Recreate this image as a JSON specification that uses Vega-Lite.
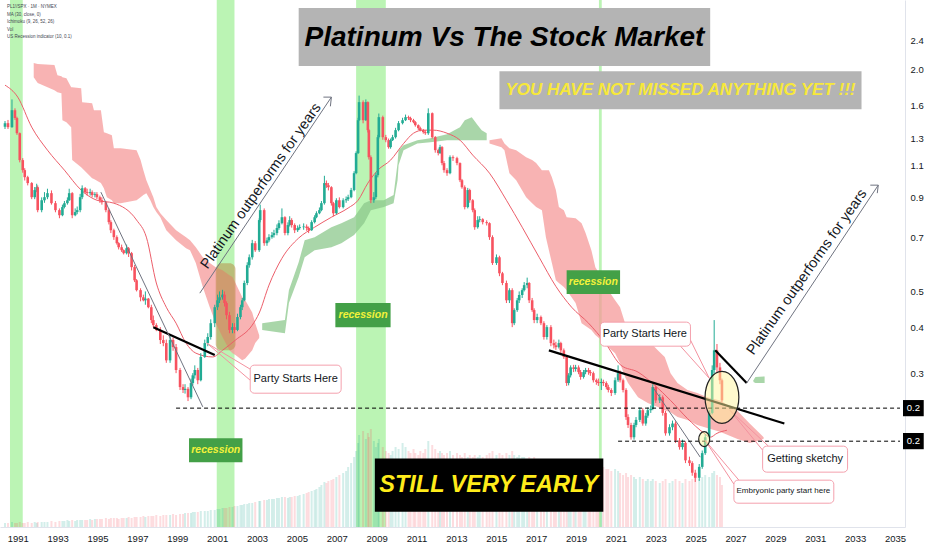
{
  "$schema": "https://vega.github.io/schema/vega-lite/v6.json",
  "width": 905,
  "height": 527,
  "autosize": {"type": "none"},
  "padding": {"left": 0, "top": 0, "right": 27, "bottom": 23},
  "background": "white",
  "datasets": {
    "recessions": [
      {"t0": 1990.61, "t1": 1991.25},
      {"t0": 2000.98, "t1": 2001.87},
      {"t0": 2007.97, "t1": 2009.46},
      {"t0": 2020.15, "t1": 2020.29}
    ],
    "candles": [
      {"t":1990.36,"o":1.4,"h":1.45,"l":1.38,"c":1.431,"v":4},
      {"t":1990.51,"o":1.431,"h":1.46,"l":1.38,"c":1.396,"v":4},
      {"t":1990.71,"o":1.396,"h":1.66,"l":1.39,"c":1.552,"v":5},
      {"t":1990.86,"o":1.552,"h":1.57,"l":1.46,"c":1.477,"v":4},
      {"t":1990.96,"o":1.477,"h":1.49,"l":1.33,"c":1.344,"v":4},
      {"t":1991.1,"o":1.344,"h":1.35,"l":1.12,"c":1.136,"v":5},
      {"t":1991.25,"o":1.136,"h":1.15,"l":1.05,"c":1.067,"v":4},
      {"t":1991.35,"o":1.067,"h":1.08,"l":1.0,"c":1.021,"v":4},
      {"t":1991.5,"o":1.021,"h":1.03,"l":0.97,"c":0.984,"v":5},
      {"t":1991.7,"o":0.984,"h":0.99,"l":0.89,"c":0.901,"v":4},
      {"t":1991.85,"o":0.901,"h":0.96,"l":0.89,"c":0.942,"v":5},
      {"t":1991.95,"o":0.942,"h":0.98,"l":0.93,"c":0.959,"v":4},
      {"t":1992.0,"o":0.959,"h":0.97,"l":0.82,"c":0.831,"v":5},
      {"t":1992.2,"o":0.831,"h":0.9,"l":0.82,"c":0.884,"v":5},
      {"t":1992.34,"o":0.884,"h":0.93,"l":0.87,"c":0.901,"v":5},
      {"t":1992.49,"o":0.901,"h":0.95,"l":0.89,"c":0.924,"v":5},
      {"t":1992.69,"o":0.924,"h":0.94,"l":0.86,"c":0.868,"v":6},
      {"t":1992.89,"o":0.868,"h":0.88,"l":0.82,"c":0.831,"v":5},
      {"t":1993.09,"o":0.831,"h":0.84,"l":0.79,"c":0.805,"v":6},
      {"t":1993.24,"o":0.805,"h":0.86,"l":0.8,"c":0.847,"v":6},
      {"t":1993.34,"o":0.847,"h":0.88,"l":0.84,"c":0.868,"v":6},
      {"t":1993.49,"o":0.868,"h":0.9,"l":0.86,"c":0.884,"v":7},
      {"t":1993.58,"o":0.884,"h":0.95,"l":0.88,"c":0.924,"v":6},
      {"t":1993.73,"o":0.924,"h":0.93,"l":0.79,"c":0.805,"v":7},
      {"t":1993.88,"o":0.805,"h":0.84,"l":0.8,"c":0.821,"v":6},
      {"t":1993.98,"o":0.821,"h":0.85,"l":0.81,"c":0.831,"v":7},
      {"t":1994.13,"o":0.831,"h":0.92,"l":0.82,"c":0.901,"v":7},
      {"t":1994.23,"o":0.901,"h":0.97,"l":0.89,"c":0.953,"v":7},
      {"t":1994.38,"o":0.953,"h":0.96,"l":0.92,"c":0.93,"v":7},
      {"t":1994.48,"o":0.93,"h":0.95,"l":0.91,"c":0.924,"v":7},
      {"t":1994.63,"o":0.924,"h":0.95,"l":0.91,"c":0.93,"v":8},
      {"t":1994.73,"o":0.93,"h":0.94,"l":0.9,"c":0.913,"v":7},
      {"t":1994.87,"o":0.913,"h":0.93,"l":0.9,"c":0.918,"v":8},
      {"t":1994.97,"o":0.918,"h":0.93,"l":0.89,"c":0.901,"v":8},
      {"t":1995.12,"o":0.901,"h":0.91,"l":0.87,"c":0.884,"v":8},
      {"t":1995.22,"o":0.884,"h":0.9,"l":0.86,"c":0.873,"v":8},
      {"t":1995.42,"o":0.873,"h":0.88,"l":0.82,"c":0.831,"v":9},
      {"t":1995.57,"o":0.831,"h":0.84,"l":0.76,"c":0.771,"v":8},
      {"t":1995.67,"o":0.771,"h":0.78,"l":0.72,"c":0.733,"v":9},
      {"t":1995.82,"o":0.733,"h":0.74,"l":0.69,"c":0.702,"v":9},
      {"t":1995.97,"o":0.702,"h":0.71,"l":0.67,"c":0.676,"v":9},
      {"t":1996.06,"o":0.676,"h":0.68,"l":0.65,"c":0.659,"v":8},
      {"t":1996.21,"o":0.659,"h":0.67,"l":0.64,"c":0.647,"v":9},
      {"t":1996.31,"o":0.647,"h":0.65,"l":0.63,"c":0.635,"v":9},
      {"t":1996.46,"o":0.635,"h":0.67,"l":0.63,"c":0.655,"v":9},
      {"t":1996.56,"o":0.655,"h":0.66,"l":0.62,"c":0.635,"v":10},
      {"t":1996.71,"o":0.635,"h":0.64,"l":0.57,"c":0.582,"v":9},
      {"t":1996.86,"o":0.582,"h":0.59,"l":0.53,"c":0.536,"v":10},
      {"t":1996.96,"o":0.536,"h":0.54,"l":0.5,"c":0.504,"v":10},
      {"t":1997.16,"o":0.504,"h":0.51,"l":0.47,"c":0.482,"v":10},
      {"t":1997.3,"o":0.482,"h":0.49,"l":0.47,"c":0.473,"v":11},
      {"t":1997.4,"o":0.473,"h":0.5,"l":0.46,"c":0.478,"v":10},
      {"t":1997.55,"o":0.478,"h":0.48,"l":0.45,"c":0.453,"v":11},
      {"t":1997.7,"o":0.453,"h":0.46,"l":0.41,"c":0.418,"v":11},
      {"t":1997.8,"o":0.418,"h":0.43,"l":0.4,"c":0.405,"v":11},
      {"t":1997.95,"o":0.405,"h":0.41,"l":0.39,"c":0.393,"v":12},
      {"t":1998.15,"o":0.393,"h":0.4,"l":0.36,"c":0.369,"v":11},
      {"t":1998.3,"o":0.369,"h":0.38,"l":0.355,"c":0.362,"v":12},
      {"t":1998.45,"o":0.362,"h":0.37,"l":0.32,"c":0.325,"v":12},
      {"t":1998.64,"o":0.325,"h":0.38,"l":0.32,"c":0.369,"v":12},
      {"t":1998.79,"o":0.369,"h":0.375,"l":0.345,"c":0.353,"v":13},
      {"t":1998.94,"o":0.353,"h":0.36,"l":0.3,"c":0.306,"v":12},
      {"t":1999.14,"o":0.306,"h":0.31,"l":0.27,"c":0.275,"v":13},
      {"t":1999.29,"o":0.275,"h":0.28,"l":0.265,"c":0.27,"v":13},
      {"t":1999.39,"o":0.27,"h":0.28,"l":0.264,"c":0.272,"v":14},
      {"t":1999.54,"o":0.272,"h":0.275,"l":0.252,"c":0.258,"v":14},
      {"t":1999.69,"o":0.258,"h":0.29,"l":0.255,"c":0.282,"v":14},
      {"t":1999.78,"o":0.282,"h":0.3,"l":0.278,"c":0.296,"v":15},
      {"t":1999.88,"o":0.296,"h":0.315,"l":0.29,"c":0.306,"v":15},
      {"t":2000.03,"o":0.306,"h":0.31,"l":0.28,"c":0.287,"v":15},
      {"t":2000.18,"o":0.287,"h":0.34,"l":0.285,"c":0.332,"v":16},
      {"t":2000.38,"o":0.332,"h":0.37,"l":0.33,"c":0.362,"v":16},
      {"t":2000.53,"o":0.362,"h":0.385,"l":0.355,"c":0.376,"v":16},
      {"t":2000.68,"o":0.376,"h":0.42,"l":0.37,"c":0.41,"v":17},
      {"t":2000.88,"o":0.41,"h":0.46,"l":0.4,"c":0.453,"v":17},
      {"t":2001.02,"o":0.453,"h":0.49,"l":0.445,"c":0.473,"v":18},
      {"t":2001.12,"o":0.473,"h":0.5,"l":0.465,"c":0.482,"v":18},
      {"t":2001.27,"o":0.482,"h":0.505,"l":0.475,"c":0.49,"v":19},
      {"t":2001.37,"o":0.49,"h":0.5,"l":0.455,"c":0.465,"v":19},
      {"t":2001.47,"o":0.465,"h":0.47,"l":0.42,"c":0.431,"v":19},
      {"t":2001.62,"o":0.431,"h":0.44,"l":0.385,"c":0.393,"v":20},
      {"t":2001.77,"o":0.393,"h":0.41,"l":0.385,"c":0.4,"v":20},
      {"t":2001.87,"o":0.4,"h":0.41,"l":0.385,"c":0.393,"v":21},
      {"t":2002.02,"o":0.393,"h":0.435,"l":0.39,"c":0.426,"v":21},
      {"t":2002.17,"o":0.426,"h":0.46,"l":0.42,"c":0.453,"v":22},
      {"t":2002.26,"o":0.453,"h":0.48,"l":0.445,"c":0.473,"v":22},
      {"t":2002.36,"o":0.473,"h":0.535,"l":0.47,"c":0.527,"v":23},
      {"t":2002.51,"o":0.527,"h":0.6,"l":0.52,"c":0.589,"v":23},
      {"t":2002.61,"o":0.589,"h":0.63,"l":0.58,"c":0.619,"v":24},
      {"t":2002.76,"o":0.619,"h":0.69,"l":0.61,"c":0.676,"v":24},
      {"t":2002.91,"o":0.676,"h":0.685,"l":0.64,"c":0.647,"v":25},
      {"t":2003.11,"o":0.647,"h":0.79,"l":0.64,"c":0.781,"v":26},
      {"t":2003.16,"o":0.781,"h":0.86,"l":0.77,"c":0.831,"v":26},
      {"t":2003.36,"o":0.831,"h":0.84,"l":0.665,"c":0.676,"v":27},
      {"t":2003.5,"o":0.676,"h":0.7,"l":0.665,"c":0.688,"v":27},
      {"t":2003.6,"o":0.688,"h":0.715,"l":0.68,"c":0.702,"v":28},
      {"t":2003.75,"o":0.702,"h":0.725,"l":0.695,"c":0.711,"v":28},
      {"t":2003.85,"o":0.711,"h":0.735,"l":0.7,"c":0.72,"v":28},
      {"t":2004.0,"o":0.72,"h":0.76,"l":0.71,"c":0.743,"v":29},
      {"t":2004.1,"o":0.743,"h":0.78,"l":0.735,"c":0.766,"v":29},
      {"t":2004.25,"o":0.766,"h":0.84,"l":0.76,"c":0.795,"v":30},
      {"t":2004.4,"o":0.795,"h":0.8,"l":0.71,"c":0.72,"v":30},
      {"t":2004.55,"o":0.72,"h":0.77,"l":0.71,"c":0.757,"v":29},
      {"t":2004.64,"o":0.757,"h":0.8,"l":0.75,"c":0.781,"v":30},
      {"t":2004.74,"o":0.781,"h":0.79,"l":0.745,"c":0.757,"v":30},
      {"t":2004.89,"o":0.757,"h":0.765,"l":0.72,"c":0.733,"v":31},
      {"t":2005.04,"o":0.733,"h":0.755,"l":0.725,"c":0.743,"v":31},
      {"t":2005.14,"o":0.743,"h":0.76,"l":0.735,"c":0.747,"v":32},
      {"t":2005.34,"o":0.747,"h":0.765,"l":0.735,"c":0.75,"v":33},
      {"t":2005.49,"o":0.75,"h":0.76,"l":0.73,"c":0.743,"v":34},
      {"t":2005.59,"o":0.743,"h":0.75,"l":0.72,"c":0.733,"v":35},
      {"t":2005.74,"o":0.733,"h":0.78,"l":0.73,"c":0.771,"v":36},
      {"t":2005.89,"o":0.771,"h":0.805,"l":0.765,"c":0.795,"v":37},
      {"t":2005.98,"o":0.795,"h":0.825,"l":0.79,"c":0.815,"v":38},
      {"t":2006.13,"o":0.815,"h":0.845,"l":0.81,"c":0.831,"v":40},
      {"t":2006.23,"o":0.831,"h":0.88,"l":0.825,"c":0.868,"v":42},
      {"t":2006.38,"o":0.868,"h":1.03,"l":0.86,"c":0.984,"v":45},
      {"t":2006.48,"o":0.984,"h":1.0,"l":0.955,"c":0.971,"v":44},
      {"t":2006.58,"o":0.971,"h":0.985,"l":0.94,"c":0.959,"v":46},
      {"t":2006.73,"o":0.959,"h":0.965,"l":0.855,"c":0.868,"v":47},
      {"t":2006.83,"o":0.868,"h":0.875,"l":0.8,"c":0.815,"v":48},
      {"t":2006.98,"o":0.815,"h":0.895,"l":0.81,"c":0.884,"v":50},
      {"t":2007.13,"o":0.884,"h":0.9,"l":0.84,"c":0.847,"v":52},
      {"t":2007.32,"o":0.847,"h":0.895,"l":0.84,"c":0.884,"v":54},
      {"t":2007.47,"o":0.884,"h":0.905,"l":0.87,"c":0.89,"v":56},
      {"t":2007.57,"o":0.89,"h":0.915,"l":0.88,"c":0.901,"v":60},
      {"t":2007.72,"o":0.901,"h":0.955,"l":0.895,"c":0.942,"v":64},
      {"t":2007.87,"o":0.942,"h":1.06,"l":0.935,"c":1.047,"v":70},
      {"t":2007.97,"o":1.047,"h":1.2,"l":1.04,"c":1.187,"v":76},
      {"t":2008.07,"o":1.187,"h":1.48,"l":1.18,"c":1.458,"v":84},
      {"t":2008.12,"o":1.458,"h":1.7,"l":1.45,"c":1.632,"v":92},
      {"t":2008.32,"o":1.632,"h":1.65,"l":1.43,"c":1.458,"v":96},
      {"t":2008.46,"o":1.458,"h":1.66,"l":1.45,"c":1.632,"v":88},
      {"t":2008.56,"o":1.632,"h":1.64,"l":1.35,"c":1.37,"v":94},
      {"t":2008.61,"o":1.37,"h":1.38,"l":1.14,"c":1.157,"v":90},
      {"t":2008.71,"o":1.157,"h":1.17,"l":0.868,"c":0.884,"v":98},
      {"t":2008.86,"o":0.884,"h":0.93,"l":0.87,"c":0.901,"v":86},
      {"t":2008.96,"o":0.901,"h":1.05,"l":0.89,"c":1.034,"v":80},
      {"t":2009.06,"o":1.034,"h":1.33,"l":1.02,"c":1.311,"v":84},
      {"t":2009.11,"o":1.311,"h":1.52,"l":1.3,"c":1.486,"v":88},
      {"t":2009.31,"o":1.486,"h":1.5,"l":1.29,"c":1.311,"v":80},
      {"t":2009.46,"o":1.311,"h":1.33,"l":1.27,"c":1.287,"v":76},
      {"t":2009.6,"o":1.287,"h":1.3,"l":1.22,"c":1.232,"v":74},
      {"t":2009.7,"o":1.232,"h":1.3,"l":1.22,"c":1.287,"v":72},
      {"t":2009.8,"o":1.287,"h":1.33,"l":1.28,"c":1.311,"v":76},
      {"t":2009.95,"o":1.311,"h":1.39,"l":1.3,"c":1.37,"v":80},
      {"t":2010.1,"o":1.37,"h":1.45,"l":1.36,"c":1.431,"v":78},
      {"t":2010.3,"o":1.431,"h":1.48,"l":1.42,"c":1.458,"v":84},
      {"t":2010.45,"o":1.458,"h":1.51,"l":1.45,"c":1.486,"v":80},
      {"t":2010.6,"o":1.486,"h":1.5,"l":1.46,"c":1.477,"v":76},
      {"t":2010.7,"o":1.477,"h":1.49,"l":1.44,"c":1.458,"v":74},
      {"t":2010.85,"o":1.458,"h":1.47,"l":1.43,"c":1.44,"v":78},
      {"t":2010.94,"o":1.44,"h":1.45,"l":1.4,"c":1.413,"v":74},
      {"t":2011.09,"o":1.413,"h":1.42,"l":1.37,"c":1.387,"v":72},
      {"t":2011.19,"o":1.387,"h":1.4,"l":1.36,"c":1.37,"v":76},
      {"t":2011.34,"o":1.37,"h":1.38,"l":1.34,"c":1.353,"v":74},
      {"t":2011.44,"o":1.353,"h":1.37,"l":1.33,"c":1.344,"v":78},
      {"t":2011.59,"o":1.344,"h":1.57,"l":1.33,"c":1.523,"v":86},
      {"t":2011.79,"o":1.523,"h":1.53,"l":1.3,"c":1.311,"v":82},
      {"t":2011.94,"o":1.311,"h":1.32,"l":1.19,"c":1.209,"v":78},
      {"t":2012.09,"o":1.209,"h":1.22,"l":1.17,"c":1.187,"v":74},
      {"t":2012.18,"o":1.187,"h":1.25,"l":1.18,"c":1.232,"v":76},
      {"t":2012.28,"o":1.232,"h":1.24,"l":1.1,"c":1.115,"v":74},
      {"t":2012.38,"o":1.115,"h":1.13,"l":1.05,"c":1.067,"v":72},
      {"t":2012.53,"o":1.067,"h":1.08,"l":1.03,"c":1.047,"v":74},
      {"t":2012.68,"o":1.047,"h":1.17,"l":1.04,"c":1.157,"v":76},
      {"t":2012.83,"o":1.157,"h":1.17,"l":1.13,"c":1.15,"v":72},
      {"t":2013.03,"o":1.15,"h":1.16,"l":1.1,"c":1.115,"v":74},
      {"t":2013.18,"o":1.115,"h":1.12,"l":0.99,"c":1.002,"v":72},
      {"t":2013.28,"o":1.002,"h":1.01,"l":0.95,"c":0.959,"v":70},
      {"t":2013.42,"o":0.959,"h":0.97,"l":0.835,"c":0.847,"v":74},
      {"t":2013.57,"o":0.847,"h":0.955,"l":0.84,"c":0.942,"v":70},
      {"t":2013.67,"o":0.942,"h":0.95,"l":0.87,"c":0.884,"v":72},
      {"t":2013.82,"o":0.884,"h":0.89,"l":0.82,"c":0.831,"v":70},
      {"t":2013.92,"o":0.831,"h":0.84,"l":0.735,"c":0.747,"v":72},
      {"t":2014.07,"o":0.747,"h":0.8,"l":0.74,"c":0.781,"v":70},
      {"t":2014.17,"o":0.781,"h":0.8,"l":0.77,"c":0.785,"v":72},
      {"t":2014.32,"o":0.785,"h":0.79,"l":0.76,"c":0.771,"v":70},
      {"t":2014.52,"o":0.771,"h":0.78,"l":0.755,"c":0.766,"v":72},
      {"t":2014.66,"o":0.766,"h":0.77,"l":0.69,"c":0.702,"v":74},
      {"t":2014.81,"o":0.702,"h":0.71,"l":0.59,"c":0.597,"v":76},
      {"t":2015.01,"o":0.597,"h":0.63,"l":0.59,"c":0.619,"v":72},
      {"t":2015.16,"o":0.619,"h":0.625,"l":0.55,"c":0.56,"v":74},
      {"t":2015.31,"o":0.56,"h":0.565,"l":0.52,"c":0.527,"v":72},
      {"t":2015.51,"o":0.527,"h":0.535,"l":0.465,"c":0.473,"v":74},
      {"t":2015.66,"o":0.473,"h":0.51,"l":0.465,"c":0.504,"v":72},
      {"t":2015.8,"o":0.504,"h":0.51,"l":0.4,"c":0.41,"v":76},
      {"t":2015.9,"o":0.41,"h":0.45,"l":0.405,"c":0.445,"v":72},
      {"t":2016.05,"o":0.445,"h":0.48,"l":0.44,"c":0.473,"v":70},
      {"t":2016.15,"o":0.473,"h":0.5,"l":0.465,"c":0.489,"v":72},
      {"t":2016.3,"o":0.489,"h":0.51,"l":0.48,"c":0.504,"v":70},
      {"t":2016.4,"o":0.504,"h":0.53,"l":0.5,"c":0.52,"v":70},
      {"t":2016.55,"o":0.52,"h":0.545,"l":0.51,"c":0.527,"v":68},
      {"t":2016.65,"o":0.527,"h":0.53,"l":0.465,"c":0.473,"v":70},
      {"t":2016.8,"o":0.473,"h":0.48,"l":0.44,"c":0.445,"v":68},
      {"t":2016.9,"o":0.445,"h":0.45,"l":0.41,"c":0.418,"v":70},
      {"t":2017.05,"o":0.418,"h":0.435,"l":0.41,"c":0.426,"v":68},
      {"t":2017.24,"o":0.426,"h":0.43,"l":0.405,"c":0.41,"v":66},
      {"t":2017.39,"o":0.41,"h":0.415,"l":0.37,"c":0.376,"v":68},
      {"t":2017.54,"o":0.376,"h":0.405,"l":0.37,"c":0.4,"v":66},
      {"t":2017.74,"o":0.4,"h":0.405,"l":0.355,"c":0.362,"v":66},
      {"t":2017.89,"o":0.362,"h":0.37,"l":0.35,"c":0.357,"v":64},
      {"t":2017.99,"o":0.357,"h":0.365,"l":0.347,"c":0.353,"v":66},
      {"t":2018.14,"o":0.353,"h":0.37,"l":0.35,"c":0.362,"v":64},
      {"t":2018.24,"o":0.362,"h":0.365,"l":0.34,"c":0.346,"v":66},
      {"t":2018.39,"o":0.346,"h":0.35,"l":0.328,"c":0.332,"v":64},
      {"t":2018.53,"o":0.332,"h":0.335,"l":0.277,"c":0.282,"v":68},
      {"t":2018.63,"o":0.282,"h":0.3,"l":0.278,"c":0.296,"v":64},
      {"t":2018.73,"o":0.296,"h":0.315,"l":0.292,"c":0.311,"v":64},
      {"t":2018.88,"o":0.311,"h":0.316,"l":0.302,"c":0.308,"v":62},
      {"t":2018.98,"o":0.308,"h":0.316,"l":0.303,"c":0.311,"v":64},
      {"t":2019.13,"o":0.311,"h":0.315,"l":0.298,"c":0.302,"v":62},
      {"t":2019.23,"o":0.302,"h":0.306,"l":0.288,"c":0.293,"v":64},
      {"t":2019.38,"o":0.293,"h":0.306,"l":0.29,"c":0.302,"v":62},
      {"t":2019.48,"o":0.302,"h":0.31,"l":0.298,"c":0.306,"v":62},
      {"t":2019.63,"o":0.306,"h":0.31,"l":0.297,"c":0.302,"v":60},
      {"t":2019.72,"o":0.302,"h":0.306,"l":0.295,"c":0.3,"v":62},
      {"t":2019.87,"o":0.3,"h":0.303,"l":0.283,"c":0.287,"v":60},
      {"t":2020.02,"o":0.287,"h":0.29,"l":0.279,"c":0.284,"v":62},
      {"t":2020.12,"o":0.284,"h":0.29,"l":0.277,"c":0.282,"v":64},
      {"t":2020.27,"o":0.282,"h":0.29,"l":0.27,"c":0.284,"v":66},
      {"t":2020.37,"o":0.284,"h":0.288,"l":0.277,"c":0.282,"v":60},
      {"t":2020.52,"o":0.282,"h":0.285,"l":0.271,"c":0.275,"v":58},
      {"t":2020.62,"o":0.275,"h":0.279,"l":0.266,"c":0.27,"v":58},
      {"t":2020.77,"o":0.27,"h":0.273,"l":0.26,"c":0.265,"v":56},
      {"t":2020.96,"o":0.265,"h":0.292,"l":0.262,"c":0.287,"v":58},
      {"t":2021.11,"o":0.287,"h":0.315,"l":0.284,"c":0.3,"v":56},
      {"t":2021.21,"o":0.3,"h":0.305,"l":0.283,"c":0.287,"v":54},
      {"t":2021.36,"o":0.287,"h":0.29,"l":0.266,"c":0.27,"v":52},
      {"t":2021.51,"o":0.27,"h":0.273,"l":0.224,"c":0.228,"v":54},
      {"t":2021.61,"o":0.228,"h":0.232,"l":0.213,"c":0.217,"v":50},
      {"t":2021.76,"o":0.217,"h":0.22,"l":0.198,"c":0.201,"v":52},
      {"t":2021.91,"o":0.201,"h":0.22,"l":0.198,"c":0.217,"v":50},
      {"t":2022.01,"o":0.217,"h":0.228,"l":0.214,"c":0.224,"v":48},
      {"t":2022.2,"o":0.224,"h":0.242,"l":0.221,"c":0.238,"v":50},
      {"t":2022.35,"o":0.238,"h":0.241,"l":0.216,"c":0.219,"v":48},
      {"t":2022.5,"o":0.219,"h":0.234,"l":0.216,"c":0.23,"v":46},
      {"t":2022.6,"o":0.23,"h":0.242,"l":0.227,"c":0.238,"v":48},
      {"t":2022.75,"o":0.238,"h":0.245,"l":0.234,"c":0.24,"v":46},
      {"t":2022.85,"o":0.24,"h":0.28,"l":0.238,"c":0.275,"v":48},
      {"t":2023.0,"o":0.275,"h":0.278,"l":0.249,"c":0.253,"v":46},
      {"t":2023.2,"o":0.253,"h":0.263,"l":0.249,"c":0.258,"v":44},
      {"t":2023.35,"o":0.258,"h":0.261,"l":0.23,"c":0.234,"v":46},
      {"t":2023.49,"o":0.234,"h":0.237,"l":0.203,"c":0.206,"v":48},
      {"t":2023.69,"o":0.206,"h":0.218,"l":0.203,"c":0.214,"v":44},
      {"t":2023.84,"o":0.214,"h":0.223,"l":0.21,"c":0.219,"v":46},
      {"t":2023.99,"o":0.219,"h":0.222,"l":0.194,"c":0.197,"v":48},
      {"t":2024.19,"o":0.197,"h":0.2,"l":0.186,"c":0.189,"v":46},
      {"t":2024.34,"o":0.189,"h":0.198,"l":0.186,"c":0.194,"v":44},
      {"t":2024.49,"o":0.194,"h":0.196,"l":0.171,"c":0.174,"v":48},
      {"t":2024.69,"o":0.174,"h":0.178,"l":0.168,"c":0.171,"v":46},
      {"t":2024.83,"o":0.171,"h":0.173,"l":0.158,"c":0.161,"v":48},
      {"t":2024.98,"o":0.161,"h":0.164,"l":0.152,"c":0.156,"v":50},
      {"t":2025.18,"o":0.156,"h":0.17,"l":0.153,"c":0.167,"v":48},
      {"t":2025.33,"o":0.167,"h":0.185,"l":0.165,"c":0.182,"v":50},
      {"t":2025.48,"o":0.182,"h":0.205,"l":0.18,"c":0.201,"v":52},
      {"t":2025.68,"o":0.201,"h":0.238,"l":0.199,"c":0.234,"v":50},
      {"t":2025.83,"o":0.234,"h":0.315,"l":0.232,"c":0.306,"v":54},
      {"t":2025.93,"o":0.306,"h":0.418,"l":0.3,"c":0.346,"v":56},
      {"t":2026.07,"o":0.346,"h":0.36,"l":0.3,"c":0.311,"v":52},
      {"t":2026.22,"o":0.311,"h":0.32,"l":0.28,"c":0.287,"v":50},
      {"t":2026.32,"o":0.287,"h":0.29,"l":0.25,"c":0.253,"v":42}
    ],
    "ma": [
      {"t":1990.36,"ma":1.815},{"t":1991.0,"ma":1.684},{"t":1991.7,"ma":1.396},
      {"t":1992.49,"ma":1.209},{"t":1993.34,"ma":1.067},{"t":1994.18,"ma":0.942},
      {"t":1994.97,"ma":0.884},{"t":1995.82,"ma":0.868},{"t":1996.96,"ma":0.781},
      {"t":1997.45,"ma":0.702},{"t":1997.95,"ma":0.527},{"t":1998.45,"ma":0.453},
      {"t":1998.94,"ma":0.41},{"t":1999.44,"ma":0.362},{"t":1999.93,"ma":0.34},
      {"t":2000.78,"ma":0.332},{"t":2001.27,"ma":0.346},{"t":2001.92,"ma":0.369},
      {"t":2002.76,"ma":0.405},{"t":2003.11,"ma":0.437},{"t":2003.6,"ma":0.52},
      {"t":2004.25,"ma":0.615},{"t":2005.09,"ma":0.698},{"t":2005.89,"ma":0.747},
      {"t":2006.73,"ma":0.795},{"t":2007.57,"ma":0.842},{"t":2008.07,"ma":0.884},
      {"t":2008.56,"ma":0.984},{"t":2009.06,"ma":1.067},{"t":2009.7,"ma":1.136},
      {"t":2010.35,"ma":1.26},{"t":2010.85,"ma":1.344},{"t":2011.34,"ma":1.37},
      {"t":2011.84,"ma":1.37},{"t":2012.53,"ma":1.344},{"t":2013.18,"ma":1.287},
      {"t":2013.82,"ma":1.172},{"t":2014.66,"ma":1.047},{"t":2015.51,"ma":0.884},
      {"t":2016.3,"ma":0.747},{"t":2017.15,"ma":0.619},{"t":2017.99,"ma":0.516},
      {"t":2018.78,"ma":0.453},{"t":2019.63,"ma":0.41},{"t":2020.47,"ma":0.362},
      {"t":2021.26,"ma":0.315},{"t":2022.11,"ma":0.302},{"t":2022.95,"ma":0.278},
      {"t":2023.74,"ma":0.253},{"t":2024.59,"ma":0.226},{"t":2025.43,"ma":0.206},
      {"t":2025.73,"ma":0.201},{"t":2026.07,"ma":0.206},{"t":2026.57,"ma":0.21}
    ],
    "cloud": [
      {"seg":"r1","k":"bear","t":1991.8,"top":2.083,"bot":1.908},
      {"seg":"r1","k":"bear","t":1992.0,"top":2.07,"bot":1.838},
      {"seg":"r1","k":"bear","t":1992.84,"top":2.057,"bot":1.759},
      {"seg":"r1","k":"bear","t":1992.99,"top":1.932,"bot":1.737},
      {"seg":"r1","k":"bear","t":1993.19,"top":1.92,"bot":1.726},
      {"seg":"r1","k":"bear","t":1993.24,"top":1.908,"bot":1.458},
      {"seg":"r1","k":"bear","t":1993.44,"top":1.896,"bot":1.44},
      {"seg":"r1","k":"bear","t":1993.68,"top":1.792,"bot":1.396},
      {"seg":"r1","k":"bear","t":1993.73,"top":1.792,"bot":1.136},
      {"seg":"r1","k":"bear","t":1994.18,"top":1.781,"bot":1.087},
      {"seg":"r1","k":"bear","t":1994.23,"top":1.632,"bot":1.08},
      {"seg":"r1","k":"bear","t":1994.73,"top":1.622,"bot":1.015},
      {"seg":"r1","k":"bear","t":1994.82,"top":1.552,"bot":1.01},
      {"seg":"r1","k":"bear","t":1995.17,"top":1.552,"bot":0.984},
      {"seg":"r1","k":"bear","t":1995.32,"top":1.353,"bot":0.953},
      {"seg":"r1","k":"bear","t":1995.47,"top":1.344,"bot":0.901},
      {"seg":"r1","k":"bear","t":1995.72,"top":1.328,"bot":0.884},
      {"seg":"r1","k":"bear","t":1995.82,"top":1.224,"bot":0.868},
      {"seg":"r1","k":"bear","t":1996.16,"top":1.224,"bot":0.868},
      {"seg":"r1","k":"bear","t":1996.96,"top":1.209,"bot":0.884},
      {"seg":"r1","k":"bear","t":1997.16,"top":1.136,"bot":0.901},
      {"seg":"r1","k":"bear","t":1997.3,"top":1.067,"bot":0.913},
      {"seg":"r1","k":"bear","t":1997.45,"top":1.002,"bot":0.924},
      {"seg":"r1","k":"bear","t":1997.65,"top":0.942,"bot":0.884},
      {"seg":"r1","k":"bear","t":1997.8,"top":0.901,"bot":0.847},
      {"seg":"r1","k":"bear","t":1997.95,"top":0.847,"bot":0.821},
      {"seg":"r1","k":"bear","t":1998.15,"top":0.815,"bot":0.795},
      {"seg":"r1","k":"bear","t":1998.45,"top":0.781,"bot":0.733},
      {"seg":"r1","k":"bear","t":1998.94,"top":0.733,"bot":0.688},
      {"seg":"r1","k":"bear","t":1999.44,"top":0.702,"bot":0.655},
      {"seg":"r1","k":"bear","t":1999.64,"top":0.688,"bot":0.647},
      {"seg":"r1","k":"bear","t":1999.93,"top":0.659,"bot":0.597},
      {"seg":"r1","k":"bear","t":2000.28,"top":0.619,"bot":0.514},
      {"seg":"r1","k":"bear","t":2000.63,"top":0.597,"bot":0.453},
      {"seg":"r1","k":"bear","t":2000.93,"top":0.582,"bot":0.41},
      {"seg":"r1","k":"bear","t":2001.27,"top":0.571,"bot":0.376},
      {"seg":"r1","k":"bear","t":2001.62,"top":0.553,"bot":0.346},
      {"seg":"r1","k":"bear","t":2001.77,"top":0.547,"bot":0.34},
      {"seg":"r1","k":"bear","t":2001.92,"top":0.527,"bot":0.336},
      {"seg":"r1","k":"bear","t":2002.26,"top":0.482,"bot":0.325},
      {"seg":"r1","k":"bear","t":2002.41,"top":0.473,"bot":0.329},
      {"seg":"r1","k":"bear","t":2002.76,"top":0.438,"bot":0.346},
      {"seg":"r1","k":"bear","t":2002.91,"top":0.41,"bot":0.362},
      {"seg":"r1","k":"bear","t":2003.11,"top":0.38,"bot":0.374},
      {"seg":"g1","k":"bull","t":2003.26,"top":0.41,"bot":0.393},
      {"seg":"g1","k":"bull","t":2004.4,"top":0.418,"bot":0.385},
      {"seg":"g1","k":"bull","t":2004.6,"top":0.504,"bot":0.465},
      {"seg":"g1","k":"bull","t":2005.09,"top":0.6,"bot":0.547},
      {"seg":"g1","k":"bull","t":2005.39,"top":0.688,"bot":0.619},
      {"seg":"g1","k":"bull","t":2005.89,"top":0.702,"bot":0.647},
      {"seg":"g1","k":"bull","t":2006.73,"top":0.747,"bot":0.659},
      {"seg":"g1","k":"bull","t":2007.23,"top":0.766,"bot":0.676},
      {"seg":"g1","k":"bull","t":2007.87,"top":0.795,"bot":0.711},
      {"seg":"g1","k":"bull","t":2008.37,"top":0.868,"bot":0.766},
      {"seg":"g1","k":"bull","t":2008.71,"top":0.884,"bot":0.831},
      {"seg":"g1","k":"bull","t":2009.36,"top":0.884,"bot":0.847},
      {"seg":"g1","k":"bull","t":2009.85,"top":0.913,"bot":0.868},
      {"seg":"g1","k":"bull","t":2010.05,"top":1.115,"bot":1.002},
      {"seg":"g1","k":"bull","t":2010.1,"top":1.209,"bot":1.101},
      {"seg":"g1","k":"bull","t":2010.35,"top":1.247,"bot":1.209},
      {"seg":"g1","k":"bull","t":2011.04,"top":1.287,"bot":1.26},
      {"seg":"g1","k":"bull","t":2011.69,"top":1.303,"bot":1.27},
      {"seg":"g1","k":"bull","t":2012.53,"top":1.335,"bot":1.287},
      {"seg":"g1","k":"bull","t":2013.18,"top":1.396,"bot":1.287},
      {"seg":"g1","k":"bull","t":2013.42,"top":1.458,"bot":1.287},
      {"seg":"g1","k":"bull","t":2013.77,"top":1.486,"bot":1.287},
      {"seg":"g1","k":"bull","t":2014.07,"top":1.413,"bot":1.287},
      {"seg":"g1","k":"bull","t":2014.27,"top":1.37,"bot":1.287},
      {"seg":"g1","k":"bull","t":2014.52,"top":1.344,"bot":1.287},
      {"seg":"r2","k":"bear","t":2014.66,"top":1.287,"bot":1.26},
      {"seg":"r2","k":"bear","t":2015.26,"top":1.303,"bot":1.232},
      {"seg":"r2","k":"bear","t":2015.41,"top":1.26,"bot":1.209},
      {"seg":"r2","k":"bear","t":2015.66,"top":1.224,"bot":1.047},
      {"seg":"r2","k":"bear","t":2016.0,"top":1.209,"bot":1.002},
      {"seg":"r2","k":"bear","t":2016.5,"top":1.157,"bot":0.901},
      {"seg":"r2","k":"bear","t":2016.8,"top":1.136,"bot":0.868},
      {"seg":"r2","k":"bear","t":2017.0,"top":1.115,"bot":0.847},
      {"seg":"r2","k":"bear","t":2017.29,"top":1.067,"bot":0.831},
      {"seg":"r2","k":"bear","t":2017.49,"top":1.067,"bot":0.702},
      {"seg":"r2","k":"bear","t":2017.64,"top":1.067,"bot":0.647},
      {"seg":"r2","k":"bear","t":2017.79,"top":1.021,"bot":0.597},
      {"seg":"r2","k":"bear","t":2017.99,"top":0.942,"bot":0.536},
      {"seg":"r2","k":"bear","t":2018.14,"top":0.847,"bot":0.527},
      {"seg":"r2","k":"bear","t":2018.39,"top":0.831,"bot":0.514},
      {"seg":"r2","k":"bear","t":2018.53,"top":0.795,"bot":0.504},
      {"seg":"r2","k":"bear","t":2018.98,"top":0.79,"bot":0.465},
      {"seg":"r2","k":"bear","t":2019.28,"top":0.766,"bot":0.41},
      {"seg":"r2","k":"bear","t":2019.48,"top":0.72,"bot":0.403},
      {"seg":"r2","k":"bear","t":2019.77,"top":0.647,"bot":0.393},
      {"seg":"r2","k":"bear","t":2019.97,"top":0.582,"bot":0.381},
      {"seg":"r2","k":"bear","t":2020.27,"top":0.547,"bot":0.369},
      {"seg":"r2","k":"bear","t":2020.47,"top":0.527,"bot":0.362},
      {"seg":"r2","k":"bear","t":2020.62,"top":0.504,"bot":0.353},
      {"seg":"r2","k":"bear","t":2020.96,"top":0.473,"bot":0.34},
      {"seg":"r2","k":"bear","t":2021.21,"top":0.453,"bot":0.319},
      {"seg":"r2","k":"bear","t":2021.46,"top":0.41,"bot":0.293},
      {"seg":"r2","k":"bear","t":2021.61,"top":0.405,"bot":0.282},
      {"seg":"r2","k":"bear","t":2022.11,"top":0.393,"bot":0.258},
      {"seg":"r2","k":"bear","t":2022.6,"top":0.376,"bot":0.249},
      {"seg":"r2","k":"bear","t":2022.75,"top":0.362,"bot":0.247},
      {"seg":"r2","k":"bear","t":2023.1,"top":0.346,"bot":0.243},
      {"seg":"r2","k":"bear","t":2023.45,"top":0.332,"bot":0.238},
      {"seg":"r2","k":"bear","t":2023.74,"top":0.3,"bot":0.235},
      {"seg":"r2","k":"bear","t":2024.09,"top":0.282,"bot":0.228},
      {"seg":"r2","k":"bear","t":2024.59,"top":0.27,"bot":0.224},
      {"seg":"r2","k":"bear","t":2025.08,"top":0.265,"bot":0.217},
      {"seg":"r2","k":"bear","t":2025.58,"top":0.258,"bot":0.213},
      {"seg":"r2","k":"bear","t":2026.22,"top":0.253,"bot":0.208},
      {"seg":"r2","k":"bear","t":2027.07,"top":0.238,"bot":0.199},
      {"seg":"r2","k":"bear","t":2027.71,"top":0.219,"bot":0.194},
      {"seg":"r2","k":"bear","t":2028.21,"top":0.206,"bot":0.197},
      {"seg":"r2","k":"bear","t":2028.41,"top":0.201,"bot":0.199},
      {"seg":"g2","k":"bull","t":2027.9,"top":0.287,"bot":0.284},
      {"seg":"g2","k":"bull","t":2028.0,"top":0.293,"bot":0.282},
      {"seg":"g2","k":"bull","t":2028.46,"top":0.294,"bot":0.282}
    ],
    "segs": [
      {"t1":1997.8,"p1":0.4,"t2":2000.88,"p2":0.336,"k":"trend"},
      {"t1":2017.64,"p1":0.346,"t2":2029.45,"p2":0.219,"k":"trend"},
      {"t1":2025.98,"p1":0.346,"t2":2027.56,"p2":0.282,"k":"trend"},
      {"t1":1995.17,"p1":0.93,"t2":2000.28,"p2":0.243,"k":"thin"},
      {"t1":2022.85,"p1":0.275,"t2":2025.23,"p2":0.1775,"k":"thin"},
      {"t1":2000.13,"p1":0.4946,"t2":2006.73,"p2":1.684,"k":"thin"},
      {"t1":2006.33,"p1":1.684,"t2":2006.73,"p2":1.684,"k":"thin"},
      {"t1":2006.68,"p1":1.59,"t2":2006.73,"p2":1.684,"k":"thin"},
      {"t1":2027.56,"p1":0.282,"t2":2034.16,"p2":0.9715,"k":"thin"},
      {"t1":2033.76,"p1":0.9715,"t2":2034.16,"p2":0.9715,"k":"thin"},
      {"t1":2034.11,"p1":0.924,"t2":2034.16,"p2":0.9715,"k":"thin"},
      {"t1":1998.94,"p1":0.2411,"t2":2035.25,"p2":0.2411,"k":"dash"},
      {"t1":2021.11,"p1":0.1961,"t2":2035.25,"p2":0.1961,"k":"dash"},
      {"t1":2000.48,"p1":0.362,"t2":2002.66,"p2":0.3076,"k":"call"},
      {"t1":2000.48,"p1":0.362,"t2":2002.66,"p2":0.287,"k":"call"},
      {"t1":2025.68,"p1":0.2908,"t2":2024.24,"p2":0.3551,"k":"call"},
      {"t1":2025.68,"p1":0.2908,"t2":2024.74,"p2":0.369,"k":"call"},
      {"t1":2026.72,"p1":0.238,"t2":2028.36,"p2":0.1854,"k":"call"},
      {"t1":2026.72,"p1":0.238,"t2":2028.65,"p2":0.1901,"k":"call"},
      {"t1":2025.48,"p1":0.197,"t2":2026.92,"p2":0.1499,"k":"call"},
      {"t1":2025.48,"p1":0.197,"t2":2027.17,"p2":0.1537,"k":"call"}
    ],
    "boxes": [
      {"t1":2005.09,"t2":2025.73,"p1":2.94,"p2":2.045,"k":"grey"},
      {"t1":2015.16,"t2":2033.32,"p1":1.981,"p2":1.562,"k":"grey"},
      {"t1":2008.91,"t2":2020.37,"p1":0.1759,"p2":0.1262,"k":"black"},
      {"t1":1999.59,"t2":2002.27,"p1":0.1998,"p2":0.172,"k":"green"},
      {"t1":2006.93,"t2":2009.7,"p1":0.465,"p2":0.4,"k":"green"},
      {"t1":2018.53,"t2":2021.21,"p1":0.571,"p2":0.492,"k":"green"},
      {"t1":2035.4,"t2":2036.44,"p1":0.2536,"p2":0.2292,"k":"black"},
      {"t1":2035.4,"t2":2036.44,"p1":0.2064,"p2":0.1865,"k":"black"}
    ],
    "notes": [
      {"t1":2002.66,"t2":2007.22,"p1":0.3154,"p2":0.2647},
      {"t1":2020.22,"t2":2024.74,"p1":0.4127,"p2":0.3551},
      {"t1":2028.36,"t2":2032.62,"p1":0.1901,"p2":0.1616},
      {"t1":2026.92,"t2":2031.93,"p1":0.1537,"p2":0.1331}
    ]
  },
  "layer": [
    {
      "data": {"name": "recessions"},
      "mark": {"type": "rect", "color": "#b4f3ac", "opacity": 0.9},
      "encoding": {
        "x": {
          "field": "t0", "type": "quantitative", "title": null,
          "scale": {"domain": [1990.36, 2035.25], "nice": false, "zero": false},
          "axis": {
            "values": [1991,1993,1995,1997,1999,2001,2003,2005,2007,2009,2011,2013,2015,2017,2019,2021,2023,2025,2027,2029,2031,2033,2035],
            "format": "d", "labelPadding": 6, "domain": true, "domainColor": "#e0e3eb"
          }
        },
        "x2": {"field": "t1"}
      }
    },
    {
      "data": {"name": "candles"},
      "mark": {"type": "bar", "size": 2, "opacity": 0.2, "orient": "vertical"},
      "encoding": {
        "x": {"field": "t", "type": "quantitative", "title": null},
        "y": {"field": "v", "type": "quantitative", "scale": {"domain": [0, 527]}, "axis": null},
        "color": {"condition": {"test": "datum.c >= datum.o", "value": "#22ab94"}, "value": "#f7525f"}
      }
    },
    {
      "layer": [
        {
          "data": {"name": "cloud"},
          "mark": {"type": "area", "opacity": 0.75},
          "encoding": {
            "x": {"field": "t", "type": "quantitative", "title": null},
            "y": {
              "field": "top", "type": "quantitative", "title": null,
              "scale": {"type": "log", "domain": [0.1147, 3.09], "nice": false},
              "axis": {
                "orient": "right",
                "values": [0.3, 0.4, 0.5, 0.7, 0.9, 1.1, 1.3, 1.6, 2.0, 2.4],
                "format": ".1f", "labelPadding": 5, "domain": true, "domainColor": "#e0e3eb"
              }
            },
            "y2": {"field": "bot"},
            "detail": {"field": "seg"},
            "color": {"field": "k", "type": "nominal", "scale": {"domain": ["bear", "bull"], "range": ["#f59a9a", "#8cc88c"]}, "legend": null}
          }
        },
        {
          "data": {"values": [{"t1": 2000.93, "t2": 2001.92, "p1": 0.5965, "p2": 0.346}]},
          "mark": {"type": "rect", "color": "#b8863e", "opacity": 0.5, "cornerRadius": 6},
          "encoding": {
            "x": {"field": "t1", "type": "quantitative", "title": null},
            "x2": {"field": "t2"},
            "y": {"field": "p1", "type": "quantitative", "title": null},
            "y2": {"field": "p2"}
          }
        },
        {
          "data": {"name": "ma"},
          "mark": {"type": "line", "color": "#ec5e6a", "strokeWidth": 1, "interpolate": "monotone"},
          "encoding": {
            "x": {"field": "t", "type": "quantitative", "title": null},
            "y": {"field": "ma", "type": "quantitative", "title": null}
          }
        },
        {
          "data": {"name": "candles"},
          "mark": {"type": "rule", "strokeWidth": 1},
          "encoding": {
            "x": {"field": "t", "type": "quantitative", "title": null},
            "y": {"field": "l", "type": "quantitative", "title": null},
            "y2": {"field": "h"},
            "color": {"condition": {"test": "datum.c >= datum.o", "value": "#22ab94"}, "value": "#f7525f"}
          }
        },
        {
          "data": {"name": "candles"},
          "mark": {"type": "bar", "size": 2.6, "orient": "vertical"},
          "encoding": {
            "x": {"field": "t", "type": "quantitative", "title": null},
            "y": {"field": "o", "type": "quantitative", "title": null},
            "y2": {"field": "c"},
            "color": {"condition": {"test": "datum.c >= datum.o", "value": "#22ab94"}, "value": "#f7525f"}
          }
        },
        {
          "data": {"name": "segs"},
          "transform": [{"filter": "datum.k == 'trend'"}],
          "mark": {"type": "rule", "color": "#000000", "strokeWidth": 2.2},
          "encoding": {
            "x": {"field": "t1", "type": "quantitative", "title": null},
            "x2": {"field": "t2"},
            "y": {"field": "p1", "type": "quantitative", "title": null},
            "y2": {"field": "p2"}
          }
        },
        {
          "data": {"name": "segs"},
          "transform": [{"filter": "datum.k == 'thin'"}],
          "mark": {"type": "rule", "color": "#6f7380", "strokeWidth": 1},
          "encoding": {
            "x": {"field": "t1", "type": "quantitative", "title": null},
            "x2": {"field": "t2"},
            "y": {"field": "p1", "type": "quantitative", "title": null},
            "y2": {"field": "p2"}
          }
        },
        {
          "data": {"name": "segs"},
          "transform": [{"filter": "datum.k == 'dash'"}],
          "mark": {"type": "rule", "color": "#000000", "strokeWidth": 1, "strokeDash": [4, 3]},
          "encoding": {
            "x": {"field": "t1", "type": "quantitative", "title": null},
            "x2": {"field": "t2"},
            "y": {"field": "p1", "type": "quantitative", "title": null},
            "y2": {"field": "p2"}
          }
        },
        {
          "data": {"name": "segs"},
          "transform": [{"filter": "datum.k == 'call'"}],
          "mark": {"type": "rule", "color": "#f4929f", "strokeWidth": 1},
          "encoding": {
            "x": {"field": "t1", "type": "quantitative", "title": null},
            "x2": {"field": "t2"},
            "y": {"field": "p1", "type": "quantitative", "title": null},
            "y2": {"field": "p2"}
          }
        },
        {
          "data": {"values": [{"t": 2026.32, "p": 0.258}]},
          "mark": {"type": "point", "shape": "M -0.65 0 A 0.65 1 0 1 0 0.65 0 A 0.65 1 0 1 0 -0.65 0 Z", "size": 2704, "filled": true, "fill": "#fff59d", "fillOpacity": 0.5, "stroke": "#222222", "strokeWidth": 1.2, "opacity": 1},
          "encoding": {
            "x": {"field": "t", "type": "quantitative", "title": null},
            "y": {"field": "p", "type": "quantitative", "title": null}
          }
        },
        {
          "data": {"values": [{"t": 2025.43, "p": 0.1986}]},
          "mark": {"type": "point", "shape": "M -0.73 0 A 0.73 1 0 1 0 0.73 0 A 0.73 1 0 1 0 -0.73 0 Z", "size": 225, "filled": true, "fill": "#fff59d", "fillOpacity": 0.5, "stroke": "#222222", "strokeWidth": 1.2, "opacity": 1},
          "encoding": {
            "x": {"field": "t", "type": "quantitative", "title": null},
            "y": {"field": "p", "type": "quantitative", "title": null}
          }
        },
        {
          "data": {"name": "boxes"},
          "transform": [{"filter": "datum.k == 'grey'"}],
          "mark": {"type": "rect", "color": "#b4b4b4"},
          "encoding": {
            "x": {"field": "t1", "type": "quantitative", "title": null},
            "x2": {"field": "t2"},
            "y": {"field": "p1", "type": "quantitative", "title": null},
            "y2": {"field": "p2"}
          }
        },
        {
          "data": {"name": "boxes"},
          "transform": [{"filter": "datum.k == 'black'"}],
          "mark": {"type": "rect", "color": "#000000"},
          "encoding": {
            "x": {"field": "t1", "type": "quantitative", "title": null},
            "x2": {"field": "t2"},
            "y": {"field": "p1", "type": "quantitative", "title": null},
            "y2": {"field": "p2"}
          }
        },
        {
          "data": {"name": "boxes"},
          "transform": [{"filter": "datum.k == 'green'"}],
          "mark": {"type": "rect", "color": "#43a047"},
          "encoding": {
            "x": {"field": "t1", "type": "quantitative", "title": null},
            "x2": {"field": "t2"},
            "y": {"field": "p1", "type": "quantitative", "title": null},
            "y2": {"field": "p2"}
          }
        },
        {
          "data": {"name": "notes"},
          "mark": {"type": "rect", "fill": "#ffffff", "stroke": "#f4a0ad", "strokeWidth": 1, "cornerRadius": 4},
          "encoding": {
            "x": {"field": "t1", "type": "quantitative", "title": null},
            "x2": {"field": "t2"},
            "y": {"field": "p1", "type": "quantitative", "title": null},
            "y2": {"field": "p2"}
          }
        },
        {
          "data": {"values": [{"t": 2015.41, "p": 2.435, "s": "Platinum Vs The Stock Market"}]},
          "mark": {"type": "text", "font": "Liberation Sans, sans-serif", "fontSize": 28, "fontWeight": "bold", "fontStyle": "italic", "color": "#000000"},
          "encoding": {
            "x": {"field": "t", "type": "quantitative", "title": null},
            "y": {"field": "p", "type": "quantitative", "title": null},
            "text": {"field": "s"}
          }
        },
        {
          "data": {"values": [{"t": 2024.24, "p": 1.759, "s": "YOU HAVE NOT MISSED ANYTHING YET !!!"}]},
          "mark": {"type": "text", "font": "Liberation Sans, sans-serif", "fontSize": 17, "fontWeight": "bold", "fontStyle": "italic", "color": "#f7e83a"},
          "encoding": {
            "x": {"field": "t", "type": "quantitative", "title": null},
            "y": {"field": "p", "type": "quantitative", "title": null},
            "text": {"field": "s"}
          }
        },
        {
          "data": {"values": [{"t": 2014.62, "p": 0.149, "s": "STILL VERY EARLY"}]},
          "mark": {"type": "text", "font": "Liberation Sans, sans-serif", "fontSize": 23.5, "fontWeight": "bold", "fontStyle": "italic", "color": "#ffec1a"},
          "encoding": {
            "x": {"field": "t", "type": "quantitative", "title": null},
            "y": {"field": "p", "type": "quantitative", "title": null},
            "text": {"field": "s"}
          }
        },
        {
          "data": {"values": [
            {"t": 2000.93, "p": 0.1854, "s": "recession"},
            {"t": 2008.32, "p": 0.431, "s": "recession"},
            {"t": 2019.87, "p": 0.53, "s": "recession"}
          ]},
          "mark": {"type": "text", "font": "Liberation Sans, sans-serif", "fontSize": 10.5, "fontWeight": "bold", "fontStyle": "italic", "color": "#f3f23a"},
          "encoding": {
            "x": {"field": "t", "type": "quantitative", "title": null},
            "y": {"field": "p", "type": "quantitative", "title": null},
            "text": {"field": "s"}
          }
        },
        {
          "data": {"values": [
            {"t": 2004.94, "p": 0.289, "s": "Party Starts Here"},
            {"t": 2022.45, "p": 0.3828, "s": "Party Starts Here"},
            {"t": 2030.49, "p": 0.1753, "s": "Getting sketchy"}
          ]},
          "mark": {"type": "text", "font": "Liberation Sans, sans-serif", "fontSize": 11, "color": "#131722"},
          "encoding": {
            "x": {"field": "t", "type": "quantitative", "title": null},
            "y": {"field": "p", "type": "quantitative", "title": null},
            "text": {"field": "s"}
          }
        },
        {
          "data": {"values": [{"t": 2029.4, "p": 0.1435, "s": "Embryonic party start here"}]},
          "mark": {"type": "text", "font": "Liberation Sans, sans-serif", "fontSize": 8, "color": "#131722"},
          "encoding": {
            "x": {"field": "t", "type": "quantitative", "title": null},
            "y": {"field": "p", "type": "quantitative", "title": null},
            "text": {"field": "s"}
          }
        },
        {
          "data": {"values": [
            {"t": 2003.21, "p": 0.965, "s": "Platinum outperforms for years"},
            {"t": 2030.59, "p": 0.5635, "s": "Platinum outperforms for years"}
          ]},
          "mark": {"type": "text", "font": "Liberation Sans, sans-serif", "fontSize": 14.5, "angle": 305, "color": "#131722"},
          "encoding": {
            "x": {"field": "t", "type": "quantitative", "title": null},
            "y": {"field": "p", "type": "quantitative", "title": null},
            "text": {"field": "s"}
          }
        },
        {
          "data": {"values": [
            {"t": 2035.92, "p": 0.2411, "s": "0.2"},
            {"t": 2035.92, "p": 0.1961, "s": "0.2"}
          ]},
          "mark": {"type": "text", "font": "Liberation Sans, sans-serif", "fontSize": 9.5, "color": "#ffffff"},
          "encoding": {
            "x": {"field": "t", "type": "quantitative", "title": null},
            "y": {"field": "p", "type": "quantitative", "title": null},
            "text": {"field": "s"}
          }
        },
        {
          "data": {"values": [
            {"t": 1990.46, "p": 2.958, "s": "PL1!/SPX · 1M · NYMEX"},
            {"t": 1990.46, "p": 2.81, "s": "MA (30, close, 0)"},
            {"t": 1990.46, "p": 2.69, "s": "Ichimoku (9, 26, 52, 26)"},
            {"t": 1990.46, "p": 2.56, "s": "Vol"},
            {"t": 1990.46, "p": 2.45, "s": "US Recession indicator (10, 0.1)"}
          ]},
          "mark": {"type": "text", "font": "Liberation Sans, sans-serif", "fontSize": 4.5, "align": "left", "color": "#434651"},
          "encoding": {
            "x": {"field": "t", "type": "quantitative", "title": null},
            "y": {"field": "p", "type": "quantitative", "title": null},
            "text": {"field": "s"}
          }
        }
      ]
    }
  ],
  "resolve": {"scale": {"y": "independent"}},
  "config": {
    "view": {"stroke": null},
    "axis": {
      "grid": false,
      "ticks": false,
      "labelColor": "#131722",
      "labelFont": "Liberation Sans, sans-serif",
      "labelFontSize": 9.5
    }
  }
}
